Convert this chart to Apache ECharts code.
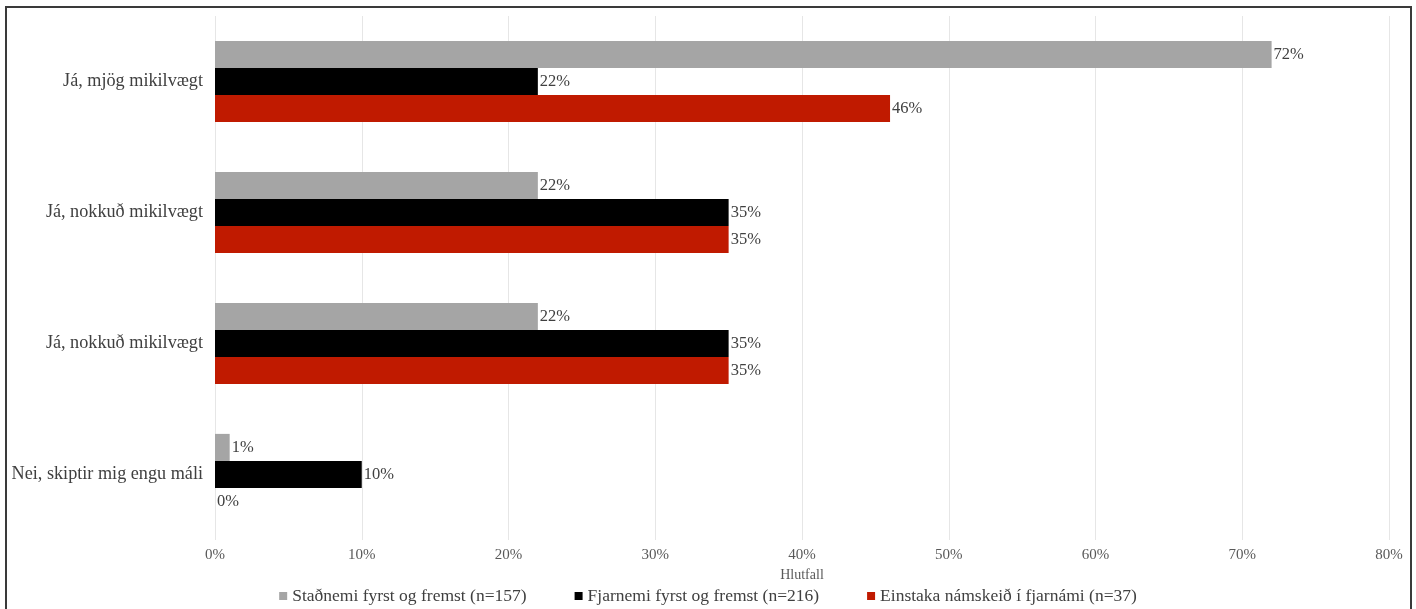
<!DOCTYPE html>
<html><head><meta charset="utf-8">
<script src="https://cdn.jsdelivr.net/npm/echarts@6/dist/echarts.min.js"></script>
<style>html,body{margin:0;padding:0;background:#fff}#c{width:1416px;height:609px}</style>
</head><body><div id="c"></div>
<script>
const categories = ['Já, mjög mikilvægt', 'Já, nokkuð mikilvægt', 'Já, nokkuð mikilvægt', 'Nei, skiptir mig engu máli'];
const seriesNames = ['Staðnemi fyrst og fremst (n=157)', 'Fjarnemi fyrst og fremst (n=216)', 'Einstaka námskeið í fjarnámi (n=37)'];
const stadnemi = [72, 22, 22, 1];
const fjarnemi = [22, 35, 35, 10];
const einstaka = [46, 35, 35, 0];
const colors = ['#a5a5a5', '#000000', '#c01a00'];
const FONT = '"Liberation Serif", "DejaVu Serif", serif';

const chart = echarts.init(document.getElementById('c'));
const values = [stadnemi, fjarnemi, einstaka];
chart.setOption({
  animation: false,
  textStyle: { fontFamily: FONT },
  graphic: [{ type: 'rect', shape: { x: 6, y: 7, width: 1405, height: 610 }, style: { fill: 'none', stroke: '#3a3a3a', lineWidth: 2 }, silent: true }],
  grid: { left: 215, right: 27, top: 16, bottom: 69, containLabel: false },
  legend: {
    top: 582, left: 'center', itemWidth: 8, itemHeight: 8, itemGap: 48, icon: 'rect',
    textStyle: { fontFamily: FONT, fontSize: 17.5, color: '#404040' },
    data: seriesNames
  },
  xAxis: {
    type: 'value', min: 0, max: 80, interval: 10,
    name: 'Hlutfall', nameLocation: 'middle', nameGap: 22,
    nameTextStyle: { fontFamily: FONT, fontSize: 14, color: '#595959' },
    axisLabel: { formatter: '{value}%', fontFamily: FONT, fontSize: 15, color: '#595959', margin: 8 },
    axisLine: { show: false }, axisTick: { show: false },
    splitLine: { show: true, lineStyle: { color: '#e6e6e6', width: 1 } }
  },
  yAxis: {
    type: 'category', data: categories.map((c, i) => i), inverse: true,
    axisLabel: { formatter: (v, i) => categories[i], fontFamily: FONT, fontSize: 18.2, color: '#404040', margin: 12 },
    axisLine: { show: false }, axisTick: { show: false }
  },
  series: values.map((v, i) => ({
    name: seriesNames[i], type: 'bar', data: v,
    barGap: '0%', barCategoryGap: '38%',
    itemStyle: { color: colors[i] },
    label: { show: true, position: 'right', distance: 2, formatter: '{c}%', fontFamily: FONT, fontSize: 16.5, color: '#404040' }
  }))
});
</script></body></html>
